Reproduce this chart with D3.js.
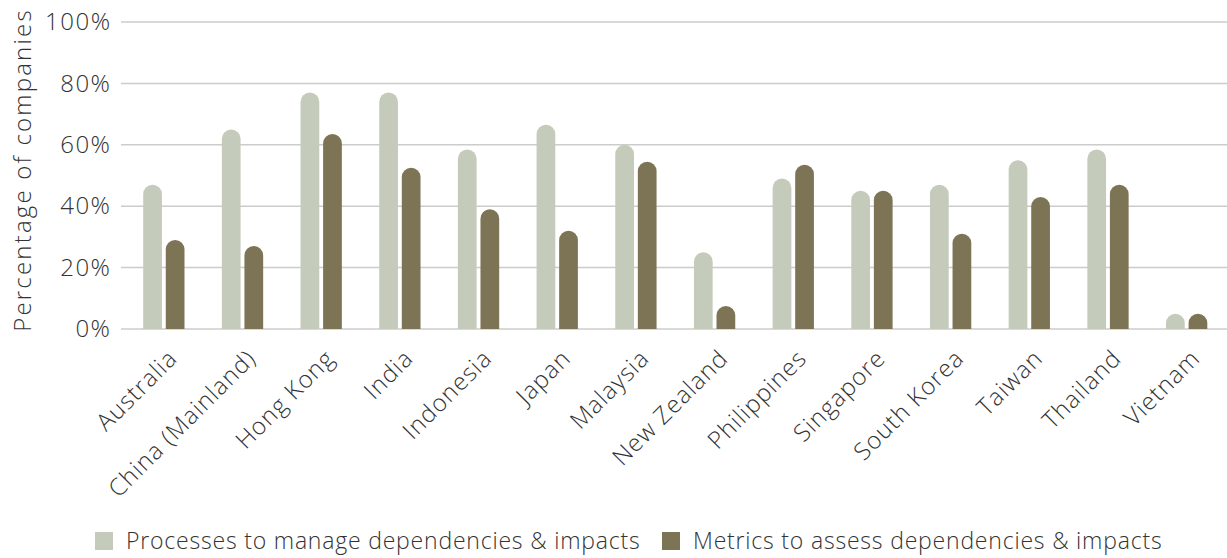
<!DOCTYPE html>
<html>
<head>
<meta charset="utf-8">
<script src="https://cdn.jsdelivr.net/npm/d3@7"></script>
<style>
  body { margin: 0; background: #fff; }
  text { font-family: "Open Sans", Lato, sans-serif; font-weight: 300; fill: #333333; }
</style>
</head>
<body>
<div id="chart"></div>
<script>
var countries = ["Australia", "China (Mainland)", "Hong Kong", "India", "Indonesia", "Japan",
  "Malaysia", "New Zealand", "Philippines", "Singapore", "South Korea", "Taiwan", "Thailand", "Vietnam"];
var processes = [47, 65, 77, 77, 58.5, 66.5, 60, 25, 49, 45, 47, 55, 58.5, 5];
var metrics = [29, 27, 63.5, 52.5, 39, 32, 54.5, 7.5, 53.5, 45, 31, 43, 47, 5];
var seriesNames = ["Processes to manage dependencies & impacts", "Metrics to assess dependencies & impacts"];
var yTicks = [0, 20, 40, 60, 80, 100];

var colors = ["#c5cbbb", "#7d7455"];
var w = 1227, h = 558;

var svg = d3.select("#chart").append("svg")
  .attr("width", w)
  .attr("height", h);

var x0 = d3.scaleBand()
  .domain(countries)
  .range([124.5, 1226])
  .paddingInner(0.475)
  .paddingOuter(0.2375);

var x1 = d3.scaleBand()
  .domain([0, 1])
  .range([0, x0.bandwidth()])
  .paddingInner(0.17);

var y = d3.scaleLinear()
  .domain([0, 100])
  .range([329, 22]);

// gridlines
svg.append("g")
  .selectAll("line")
  .data(yTicks)
  .enter()
  .append("line")
  .attr("x1", 121)
  .attr("x2", w)
  .attr("y1", function(d) { return y(d); })
  .attr("y2", function(d) { return y(d); })
  .attr("stroke", "#cccccc")
  .attr("stroke-width", 1.5);

// y tick labels
var yAxis = d3.axisLeft(y)
  .tickValues(yTicks)
  .tickSize(0)
  .tickPadding(0)
  .tickFormat(function(d) { return d + "%"; });

var gy = svg.append("g")
  .attr("transform", "translate(111.5,0)")
  .call(yAxis);
gy.select(".domain").remove();
gy.attr("font-family", null).attr("font-size", null);
gy.selectAll("text")
  .style("font-size", "24px")
  .style("letter-spacing", "1.5px")
  .attr("fill", "#333333");

// y axis title
svg.append("text")
  .attr("text-anchor", "middle")
  .attr("transform", "translate(31,170) rotate(-90)")
  .style("font-size", "24px")
  .style("letter-spacing", "2.2px")
  .text("Percentage of companies");

// bars with round tops
function barPath(xl, bw, val) {
  var r = bw / 2;
  var top = y(val);
  var base = y(0);
  return "M" + xl + "," + base +
    "L" + xl + "," + (top + r) +
    "A" + r + "," + r + " 0 0 1 " + (xl + bw) + "," + (top + r) +
    "L" + (xl + bw) + "," + base + "Z";
}

var rows = countries.map(function(c, i) { return { c: c, v: [processes[i], metrics[i]] }; });

var groups = svg.append("g")
  .selectAll("g")
  .data(rows)
  .enter()
  .append("g")
  .attr("transform", function(d) { return "translate(" + x0(d.c) + ",0)"; });

groups.selectAll("path")
  .data(function(d) { return d.v.map(function(v, k) { return { k: k, v: v }; }); })
  .enter()
  .append("path")
  .attr("d", function(d) { return barPath(x1(d.k), x1.bandwidth(), d.v); })
  .attr("fill", function(d) { return colors[d.k]; });

// x labels
svg.append("g")
  .selectAll("text")
  .data(countries)
  .enter()
  .append("text")
  .attr("text-anchor", "end")
  .attr("transform", function(d) {
    return "translate(" + (x0(d) + x0.bandwidth() / 2 + 3) + ",348) rotate(-45)";
  })
  .attr("dy", "0.7em")
  .style("font-size", "24px")
  .style("letter-spacing", "1px")
  .text(function(d) { return d; });

// legend
var legendX = [95, 662];
var lg = svg.append("g")
  .selectAll("g")
  .data(seriesNames)
  .enter()
  .append("g")
  .attr("transform", function(d, i) { return "translate(" + legendX[i] + ",532)"; });

lg.append("rect")
  .attr("width", 18)
  .attr("height", 18)
  .attr("fill", function(d, i) { return colors[i]; });

lg.append("text")
  .attr("x", 31)
  .attr("y", 9)
  .attr("dy", "0.35em")
  .style("font-size", "23px")
  .style("letter-spacing", "0.8px")
  .text(function(d) { return d; });
</script>
</body>
</html>
